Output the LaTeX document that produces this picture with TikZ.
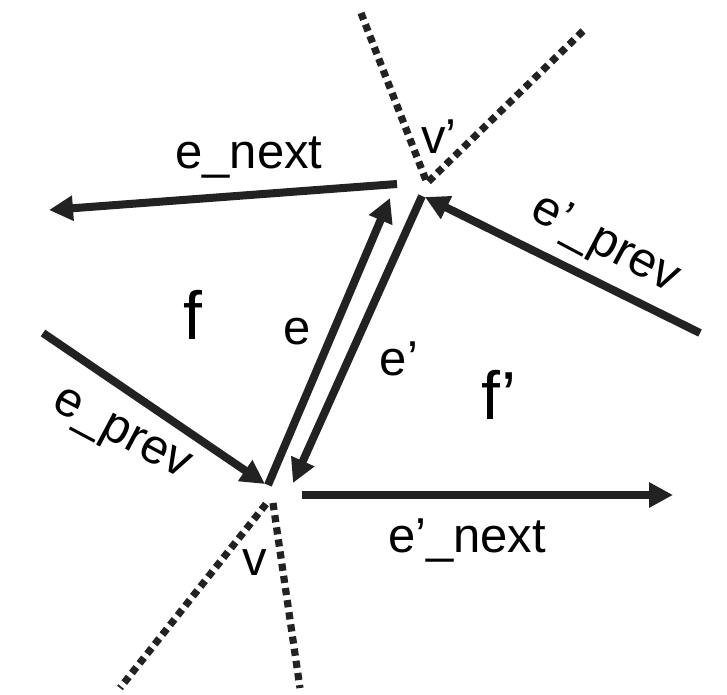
\documentclass[tikz,border=0pt]{standalone}
\usepackage{fontspec}
\setmainfont{Liberation Sans}
\usetikzlibrary{arrows.meta}
\definecolor{ink}{RGB}{34,34,34}
\tikzset{
  edgearrow/.style={draw=ink, line width=6pt, -{Triangle[length=18pt,width=18pt]}},
  dotline/.style={draw=ink, line width=5.4pt, dash pattern=on 5.4pt off 3.8pt},
  lbl/.style={text=black, inner sep=0pt, font=\fontsize{36.75pt}{40pt}\selectfont, anchor=base},
  biglbl/.style={text=black, inner sep=0pt, font=\fontsize{51pt}{55pt}\selectfont, anchor=base},
}
\begin{document}
\begin{tikzpicture}[x=0.75pt,y=0.75pt]
\useasboundingbox (0,0) rectangle (727,694);
% vertices / end points
\coordinate (vp) at (427,511);
\coordinate (vpA) at (361,681);
\coordinate (vpB) at (583,663);
\coordinate (vA) at (266,190);
\coordinate (vAend) at (120,6);
\coordinate (vB) at (273,191);
\coordinate (vBend) at (300,6);
\coordinate (enS) at (397,510);
\coordinate (enT) at (49,484);
\coordinate (eS) at (268,209);
\coordinate (eT) at (390,496);
\coordinate (epS) at (422,498);
\coordinate (epT) at (293,211);
\coordinate (eppS) at (700,361);
\coordinate (eppT) at (425,497);
\coordinate (epvS) at (43,361);
\coordinate (epvT) at (265,210);
\coordinate (epnS) at (302,199);
\coordinate (epnT) at (673,199);
% dotted lines
\draw[dotline] (vpA) -- (vp);
\draw[dotline] (vpB) -- (vp);
\draw[dotline] (vA) -- (vAend);
\draw[dotline] (vB) -- (vBend);
% arrows
\draw[edgearrow] (enS) -- (enT);
\draw[edgearrow] (eS) -- (eT);
\draw[edgearrow] (epS) -- (epT);
\draw[edgearrow] (eppS) -- (eppT);
\draw[edgearrow] (epvS) -- (epvT);
\draw[edgearrow] (epnS) -- (epnT);
% labels
\node[lbl] (Lenext) at (249,526) {e\_next};
\node[biglbl] (Lf) at (193,355) {f};
\node[lbl] (Le) at (297,350) {e};
\node[lbl] (Lep) at (399,319) {e’};
\node[biglbl] (Lfp) at (499,275) {f’};
\node[lbl] (Lvp) at (439,541) {v’};
\node[lbl] (Lv) at (255,119) {v};
\node[lbl] (Lepnext) at (467,142) {e’\_next};
\node[lbl, anchor=center, rotate=-28] (Leprev) at (120,257) {e\_prev};
\node[lbl, anchor=center, rotate=-28] (Lepprev) at (605,449) {e’\_prev};
\end{tikzpicture}
\end{document}
